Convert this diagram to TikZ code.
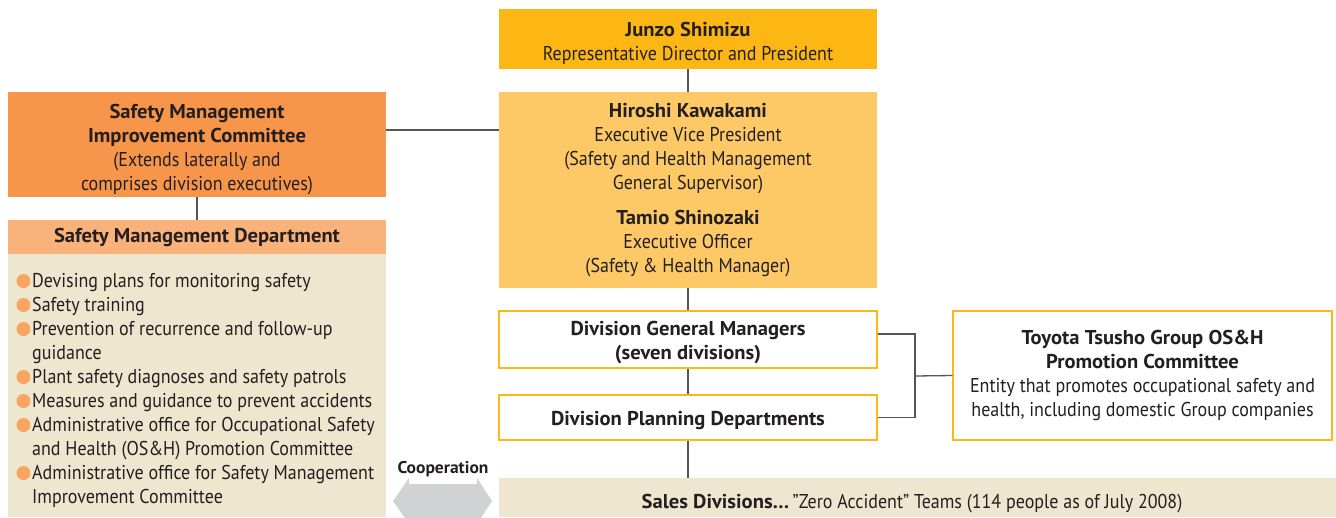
\documentclass[tikz,border=0pt]{standalone}
\usepackage{fontspec}
\setmainfont{PT Sans}[UprightFeatures={FakeStretch=0.9},BoldFeatures={FakeStretch=1.03}]
\usetikzlibrary{positioning}

\definecolor{ink}{HTML}{231F20}
\definecolor{presyellow}{HTML}{FDB714}
\definecolor{evpyellow}{HTML}{FDC966}
\definecolor{smicorange}{HTML}{F7964A}
\definecolor{smdorange}{HTML}{F9B27A}
\definecolor{beige}{HTML}{EFE6CF}
\definecolor{rimyellow}{HTML}{FDB913}
\definecolor{linkgray}{HTML}{555555}
\definecolor{coopgray}{HTML}{D1D2D4}
\definecolor{dotorange}{HTML}{F7A560}

% invisible strut that pushes the first line of a box down
\newcommand{\sink}[1]{\rule{0pt}{#1}}

\begin{document}
\begin{tikzpicture}[x=1pt,y=-1pt,
	txt/.style={text=ink,font=\fontsize{20}{24}\selectfont},
	box/.style={txt,inner sep=0pt,align=center,minimum width=378pt},
	rimbox/.style={box,draw=rimyellow,line width=1.5pt,fill=white},
	link/.style={draw=linkgray,line width=1.3pt}]

\useasboundingbox (0,0) rectangle (1336,517);
\clip (0,0) rectangle (1336,517);

% top of the chart
\node[box,fill=presyellow,minimum height=60pt] (pres) at (688,39)
	{\sink{23pt}\textbf{Junzo Shimizu}\\Representative Director and President};
\node[box,fill=evpyellow,minimum height=196pt] (evp) at (688,190)
	{\textbf{Hiroshi Kawakami}\\Executive Vice President\\(Safety and Health Management\\General Supervisor)\\[11pt]
	 \textbf{Tamio Shinozaki}\\Executive Officer\\(Safety \& Health Manager)};

% left column
\node[box,fill=smicorange,minimum height=105pt] (smic) at (197,144.5)
	{\sink{25pt}\textbf{Safety Management}\\\textbf{Improvement Committee}\\(Extends laterally and\\comprises division executives)};
\node[box,fill=smdorange,minimum height=34pt] (smdhead) at (197,237)
	{\textbf{Safety Management Department}};
\node[box,fill=beige,minimum height=263pt] (smdbody) at (197,385.5) {};

\foreach \line/\dot [count=\i] in {
	Devising plans for monitoring safety/1,
	Safety training/1,
	Prevention of recurrence and follow-up/1,
	guidance/0,
	Plant safety diagnoses and safety patrols/1,
	Measures and guidance to prevent accidents/1,
	Administrative office for Occupational Safety/1,
	and Health (OS\&H) Promotion Committee/0,
	Administrative office for Safety Management/1,
	Improvement Committee/0}{
	\node[txt,inner sep=0pt,anchor=base west] (item\i) at (32,{287+24*(\i-1)}) {\line};
	\ifnum\dot=1
		\fill[dotorange] (23.5,{281+24*(\i-1)}) circle (7);
	\fi
}

% middle column
\node[rimbox,minimum height=57pt] (dgm) at (688,339.5)
	{\sink{21pt}\textbf{Division General Managers}\\\textbf{(seven divisions)}};
\node[rimbox,minimum height=45pt] (dpd) at (688,417.5)
	{\sink{21pt}\textbf{Division Planning Departments}};
\node[box,fill=beige,minimum width=837pt,minimum height=39pt] (sales) at (917.5,497.5) {};
\node[txt,inner sep=0pt,anchor=base] (salestext) at (912,508)
	{\textbf{Sales Divisions…}\,”Zero Accident” Teams (114 people as of July 2008)};

% right column
\node[rimbox,minimum width=379pt,minimum height=129pt] (ttg) at (1142.5,375.5)
	{\textbf{Toyota Tsusho Group OS\&H}\\\textbf{Promotion Committee}\\Entity that promotes occupational safety and\\health, including domestic Group companies};

% cooperation arrow
\fill[coopgray] (393,501) -- (409,478) -- (409,484) -- (477,484) -- (477,478) -- (492,501)
	-- (477,524) -- (477,518) -- (409,518) -- (409,524) -- cycle;
\node[txt,font=\fontsize{17}{20}\selectfont\bfseries,anchor=base] (cooplabel) at (443,473) {Cooperation};

% connectors
\coordinate (join) at (915,376);
\draw[link] (pres) -- (evp);
\draw[link] (evp) -- (dgm);
\draw[link] (dgm) -- (dpd);
\draw[link] (dpd) -- (dpd.south |- sales.north);
\draw[link] (smic) -- (smdhead);
\draw[link] (smic.east |- 0,130) -- (evp.west |- 0,130);
\draw[link] (dgm.east |- 0,334) -| (join) |- (dpd.east);
\draw[link] (join) -- (ttg.west);

\end{tikzpicture}
\end{document}
